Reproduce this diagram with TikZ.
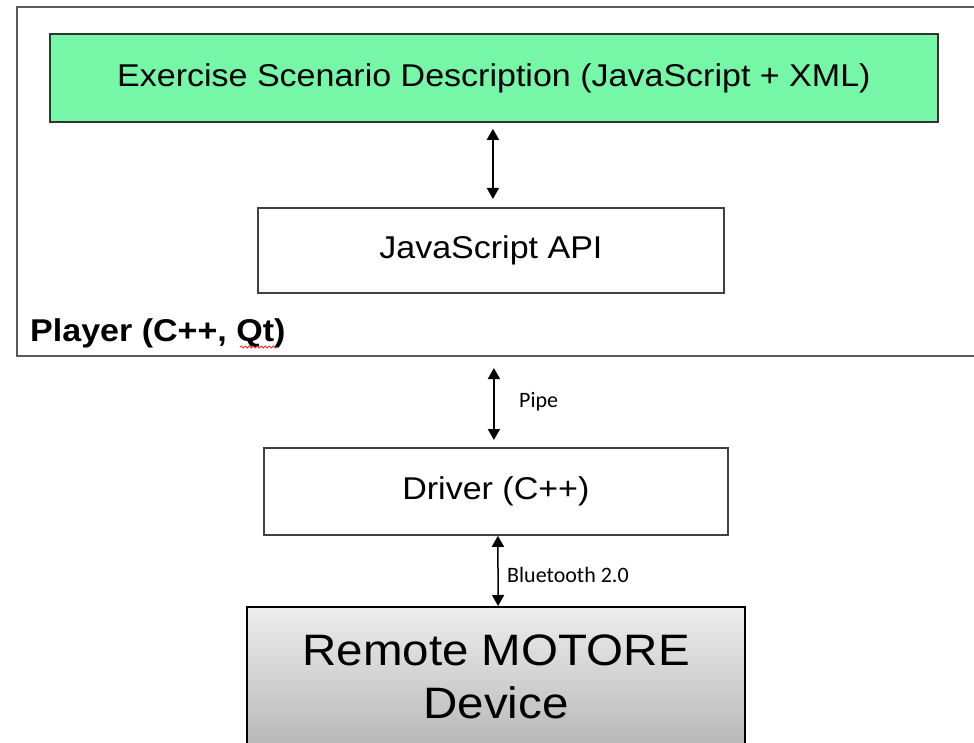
\documentclass[tikz,border=0pt]{standalone}
\usepackage{fontspec}
\setmainfont{Liberation Sans}[FakeStretch=1.08]
\newfontfamily\linkfont{Carlito}
\usetikzlibrary{arrows.meta,decorations.pathmorphing}
\definecolor{scenfill}{HTML}{76F7A8}
\definecolor{spellred}{HTML}{E0302F}
\begin{document}
\begin{tikzpicture}[x=1pt,y=-1pt,
  box/.style={draw=black!75, line width=1.8pt, inner sep=0pt, anchor=north west,
    font=\fontsize{31.5}{36}\selectfont},
  link/.style={line width=1.5pt,
    {Triangle[length=11pt,width=12pt]}-{Triangle[length=11pt,width=12pt]}},
  linklabel/.style={font=\linkfont\fontsize{22}{26}\selectfont, anchor=west, inner sep=0pt}]
  \useasboundingbox (0,0) rectangle (974,743);
  \fill[white] (0,0) rectangle (974,743);

  % player container (runs past the right edge)
  \node[box, draw=black!65, line width=2pt, minimum width=1000pt, minimum height=349pt]
    (player) at (16,6) {};
  \node[anchor=base west, inner sep=0pt, font=\bfseries\fontsize{31.5}{36}\selectfont]
    (playerlabel) at (30,341) {Player (C++, Qt)};
  \draw[spellred, line width=0.8pt, decorate,
        decoration={snake, amplitude=1.1pt, segment length=4pt}]
    (240,347) -- (277,347);

  % boxes
  \node[box, draw=black!80, fill=scenfill, minimum width=888pt, minimum height=88pt]
    (scen) at (49,33) {Exercise Scenario Description (JavaScript + XML)};
  \node[box, minimum width=466pt, minimum height=85pt]
    (api) at (257,207) {JavaScript API};
  \node[box, minimum width=464pt, minimum height=87pt]
    (driver) at (263,447) {Driver (C++)};
  \node[box, draw=black, line width=2.2pt, top color=black!7, bottom color=black!28,
    minimum width=498pt, minimum height=139pt, align=center,
    font=\fontsize{44}{53}\selectfont]
    (remote) at (246,606) {Remote MOTORE\\Device};

  % connectors
  \draw[link, shorten <=6pt, shorten >=8pt]
    ([xshift=2pt]api.north |- scen.south) -- ([xshift=2pt]api.north);
  \draw[link, shorten <=11pt, shorten >=7pt]
    ([xshift=-2pt]driver.north |- player.south) -- ([xshift=-2pt]driver.north);
  \node[linklabel] (pipelabel) at (519,402) {Pipe};
  \draw[link] ([xshift=2pt]driver.south) -- ([xshift=2pt]remote.north);
  \node[linklabel] (btlabel) at (507,575) {Bluetooth 2.0};
\end{tikzpicture}
\end{document}
